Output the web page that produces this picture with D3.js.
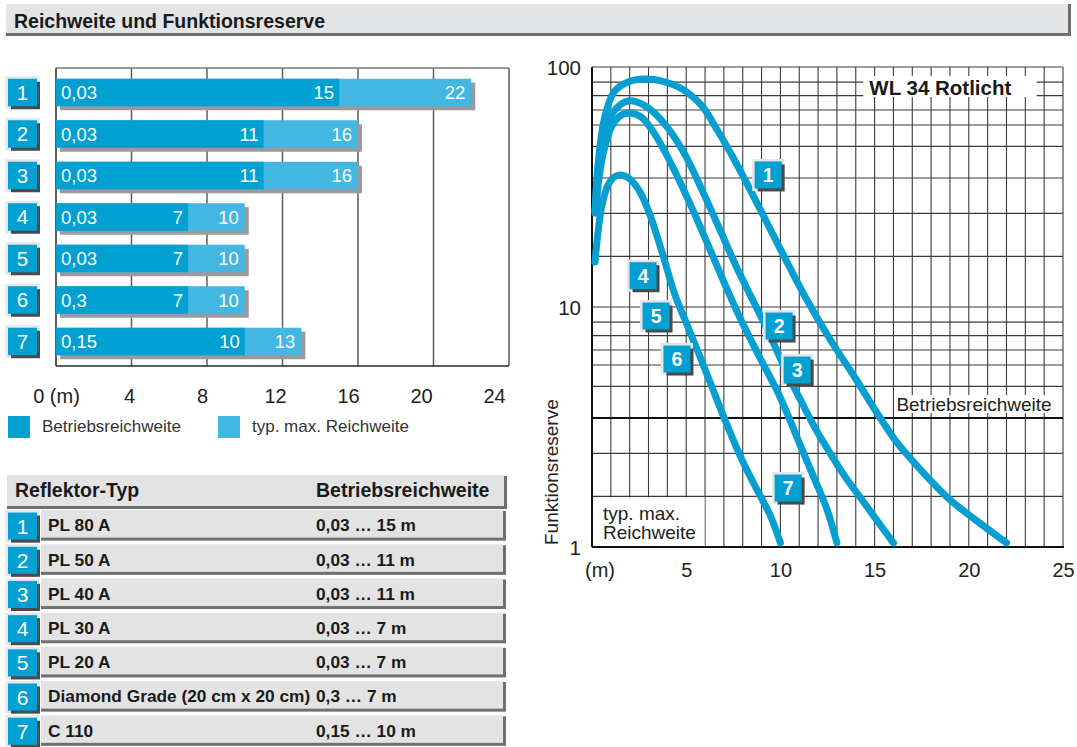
<!DOCTYPE html>
<html><head><meta charset="utf-8">
<script src="https://cdn.jsdelivr.net/npm/d3@7"></script>
<style>
body{margin:0;background:#fff}
svg{display:block}
text{font-family:"Liberation Sans",Arial,Helvetica,sans-serif}
</style>
</head><body>
<svg id="chart" width="1077" height="747"></svg>
<script>
// ---------- DATA ----------
const rowIds = ["1","2","3","4","5","6","7"];
const betriebValues = [15, 11, 11, 7, 7, 7, 10];
const maxValues = [22, 16, 16, 10, 10, 10, 13];
const minLabels = ["0,03","0,03","0,03","0,03","0,03","0,3","0,15"];
const barTicks = [0, 4, 8, 12, 16, 20, 24];
const reflektorTypes = ["PL 80 A","PL 50 A","PL 40 A","PL 30 A","PL 20 A","Diamond Grade (20 cm x 20 cm)","C 110"];
const rangeTexts = ["0,03 … 15 m","0,03 … 11 m","0,03 … 11 m","0,03 … 7 m","0,03 … 7 m","0,3 … 7 m","0,15 … 10 m"];

// Funktionsreserve curves (distance in m, reserve factor)
const curve1Dist    = [0.16,0.32,0.64,1.17,1.91,2.81,3.72,4.78,5.79,6.69,7.75,8.93,10.1,11.35,12.7,13.97,15.03,16.09,16.99,17.95,19.01,20.34,22.0];
const curve1Reserve = [24.9,39,60,78.7,86.6,89.1,87.4,81.0,69.5,54.0,38.5,25.5,16.8,10.9,7.2,5.06,3.72,2.79,2.3,1.9,1.57,1.3,1.04];
const curve23Dist    = [0.16,0.32,0.64,1.12,1.91,2.76,3.77,4.89,5.89,6.8,7.7,8.66,9.56,10.3,11.1,11.9,12.6,13.44,14.34,15.19,16.0];
const curve23Reserve = [24.6,36.5,51.6,64.9,72.2,69.4,59.0,43.8,30.1,20.9,14.5,10.2,7.29,5.4,4.05,3.07,2.49,1.96,1.57,1.27,1.04];
const curve7Dist    = [0.21,0.37,0.64,1.01,1.49,2.02,2.6,3.19,3.88,4.67,5.47,6.27,7.06,7.86,8.92,9.98,11.05,11.84,12.48,13.0];
const curve7Reserve = [25.4,34.5,45.1,55.7,62.5,64.3,61.9,54.6,44.2,33.2,24.2,17.3,12.4,9.0,6.13,4.22,2.66,1.9,1.43,1.04];
const curve456Dist    = [0.16,0.32,0.53,0.85,1.17,1.54,2.02,2.55,3.08,3.72,4.41,5.05,5.74,6.43,7.17,7.97,8.76,9.45,10.0];
const curve456Reserve = [15.4,20.5,26.6,32.2,34.8,35.5,34.1,30.1,24.2,16.9,11.2,8.41,6.19,4.51,3.22,2.3,1.73,1.36,1.04];

const curveBadgeIds = ["1","2","3","4","5","6","7"];
const curveBadgeDist = [9.35, 9.93, 10.89, 2.71, 3.40, 4.51, 10.41];
const curveBadgeReserve = [35.5, 8.33, 5.46, 13.5, 9.17, 6.07, 1.76];

const distTicks = [5, 10, 15, 20, 25];
const reserveTicks = [1, 10, 100];
const reserveGridSteps = [1.625, 2.455, 3.445, 4.67, 5.73, 6.62, 7.6, 8.65];
const betriebsLevel = 3.445;
const typMaxLevel = 1.625;

// ---------- STYLE ----------
const DARK = "#00a0d3", LIGHT = "#43b7e1", CURVE = "#079fd2";
const svg = d3.select("#chart");

// ---------- HEADER ----------
svg.append("rect").attr("x",6).attr("y",4).attr("width",1064).attr("height",30).attr("fill","#e3e4e5");
svg.append("rect").attr("x",6).attr("y",33).attr("width",1065).attr("height",3).attr("fill","#6e6e6e");
svg.append("rect").attr("x",1068).attr("y",4).attr("width",3).attr("height",32).attr("fill","#6e6e6e");
svg.append("text").attr("x",14).attr("y",28).attr("font-size",19.5).attr("font-weight","bold").attr("fill","#1a1a1a")
  .text("Reichweite und Funktionsreserve");

// ---------- BADGE helper ----------
function badge(g, x0, y0, w, h, label, fs, bold){
  g.append("rect").attr("x",x0-2.5).attr("y",y0-2.5).attr("width",w+5).attr("height",h+5).attr("fill","#e6e6e6");
  g.append("rect").attr("x",x0+3).attr("y",y0+3).attr("width",w).attr("height",h).attr("fill","#4a4a4a");
  g.append("rect").attr("x",x0).attr("y",y0).attr("width",w).attr("height",h).attr("fill",DARK);
  g.append("text").attr("x",x0+w/2).attr("y",y0+h/2).attr("dy","0.36em").attr("text-anchor","middle")
    .attr("font-size",fs).attr("font-weight",bold?"bold":"normal").attr("fill","#fff").text(label);
}

// ---------- BAR CHART ----------
const xBar = d3.scaleLinear().domain([0,24]).range([56,509]);
const yBar = d3.scaleBand().domain(rowIds).range([68,366]).paddingInner(0.337).paddingOuter(0.259);
const bw = yBar.bandwidth();
const gBar = svg.append("g");
barTicks.filter(t=>t>0 && t<24).forEach(t=>{
  gBar.append("line").attr("x1",xBar(t)).attr("x2",xBar(t)).attr("y1",68).attr("y2",366)
    .attr("stroke","#5e5e5e").attr("stroke-width",1.5);
});
gBar.append("line").attr("x1",xBar(0)).attr("x2",xBar(24)).attr("y1",68).attr("y2",68).attr("stroke","#7a7a7a").attr("stroke-width",1.5);
gBar.append("line").attr("x1",xBar(24)).attr("x2",xBar(24)).attr("y1",68).attr("y2",366).attr("stroke","#5e5e5e").attr("stroke-width",1.5);
gBar.append("line").attr("x1",xBar(0)).attr("x2",xBar(0)).attr("y1",68).attr("y2",366).attr("stroke","#2a2a2a").attr("stroke-width",1.5);
gBar.append("line").attr("x1",xBar(0)).attr("x2",xBar(24)).attr("y1",366).attr("y2",366).attr("stroke","#2a2a2a").attr("stroke-width",1.5);

rowIds.forEach((id,i)=>{
  const y0 = yBar(id);
  gBar.append("rect").attr("x",xBar(0)+4).attr("y",y0+4).attr("width",xBar(maxValues[i])-xBar(0)).attr("height",bw).attr("fill","#9a9a9c");
  gBar.append("rect").attr("x",xBar(0)).attr("y",y0).attr("width",xBar(maxValues[i])-xBar(0)).attr("height",bw).attr("fill",LIGHT);
  gBar.append("rect").attr("x",xBar(0)).attr("y",y0).attr("width",xBar(betriebValues[i])-xBar(0)).attr("height",bw).attr("fill",DARK);
  const ty = y0 + bw/2;
  gBar.append("text").attr("x",xBar(0)+5).attr("y",ty).attr("dy","0.36em").attr("font-size",18.5).attr("fill","#fff").text(minLabels[i]);
  gBar.append("text").attr("x",xBar(betriebValues[i])-5).attr("y",ty).attr("dy","0.36em").attr("text-anchor","end").attr("font-size",18.5).attr("fill","#fff").text(betriebValues[i]);
  gBar.append("text").attr("x",xBar(maxValues[i])-6).attr("y",ty).attr("dy","0.36em").attr("text-anchor","end").attr("font-size",18.5).attr("fill","#fff").text(maxValues[i]);
  badge(gBar, 8, y0, 29, bw, id, 20.5, false);
});

// tick labels of bar chart
const xBarLabel = d3.scaleLinear().domain([0,24]).range([56,494]);
const axB = svg.append("g").call(d3.axisBottom(xBarLabel).tickValues(barTicks).tickSize(0)
  .tickFormat(d => d===0 ? "0 (m)" : d));
axB.select(".domain").remove();
axB.selectAll("text").attr("y",403).attr("dy",null).attr("font-size",20).attr("fill","#222")
  .style("font-family",'"Liberation Sans",Arial,sans-serif');

// legend
svg.append("rect").attr("x",8).attr("y",416).attr("width",22).attr("height",22).attr("fill",DARK);
svg.append("text").attr("x",42).attr("y",432).attr("font-size",17).attr("fill","#333").text("Betriebsreichweite");
svg.append("rect").attr("x",218).attr("y",416).attr("width",22).attr("height",22).attr("fill",LIGHT);
svg.append("text").attr("x",252).attr("y",432).attr("font-size",17).attr("fill","#333").text("typ. max. Reichweite");

// ---------- TABLE ----------
const gT = svg.append("g");
gT.append("rect").attr("x",7).attr("y",475).attr("width",497).attr("height",31).attr("fill","#e3e3e4");
gT.append("rect").attr("x",7).attr("y",506).attr("width",500).attr("height",3).attr("fill","#6f6f6f");
gT.append("rect").attr("x",504).attr("y",476).attr("width",3).attr("height",33).attr("fill","#6f6f6f");
gT.append("text").attr("x",15).attr("y",497).attr("font-size",19.5).attr("font-weight","bold").attr("fill","#1a1a1a").text("Reflektor-Typ");
gT.append("text").attr("x",316).attr("y",497).attr("font-size",19.5).attr("font-weight","bold").attr("fill","#1a1a1a").text("Betriebsreichweite");

const yTab = d3.scaleBand().domain(rowIds).range([508, 508 + 7*34.2]).paddingInner(0.12).paddingOuter(0.06);
rowIds.forEach((id,i)=>{
  const t = yTab(id), h = yTab.bandwidth();
  gT.append("rect").attr("x",41).attr("y",t).attr("width",462).attr("height",h-2).attr("fill","#e3e3e4");
  gT.append("rect").attr("x",41).attr("y",t+h-2.5).attr("width",465).attr("height",3).attr("fill","#6f6f6f");
  gT.append("rect").attr("x",503).attr("y",t+1).attr("width",3).attr("height",h-1).attr("fill","#6f6f6f");
  badge(gT, 8, t+2.5, 29, h-3, id, 21, false);
  gT.append("text").attr("x",48).attr("y",t+h/2).attr("dy","0.36em").attr("font-size",17.3).attr("font-weight","bold").attr("fill","#1a1a1a").text(reflektorTypes[i]);
  gT.append("text").attr("x",316).attr("y",t+h/2).attr("dy","0.36em").attr("font-size",17.3).attr("font-weight","bold").attr("fill","#1a1a1a").text(rangeTexts[i]);
});

// ---------- FUNKTIONSRESERVE CHART ----------
const xR = d3.scaleLinear().domain([0,25]).range([592,1063]);
const yR = d3.scaleLog().domain([1,100]).range([547,67]);
const gR = svg.append("g");

// vertical grid
d3.range(1,26).forEach(m=>{
  gR.append("line").attr("x1",xR(m)).attr("x2",xR(m)).attr("y1",yR(100)).attr("y2",yR(1))
    .attr("stroke","#3c3c3c").attr("stroke-width",1.1);
});
// horizontal grid
const hGrid = [];
[1,10].forEach(dec => reserveGridSteps.forEach(s => hGrid.push(s*dec)));
hGrid.push(10, 100);
hGrid.forEach(v=>{
  gR.append("line").attr("x1",xR(0)).attr("x2",xR(25)).attr("y1",yR(v)).attr("y2",yR(v))
    .attr("stroke","#3c3c3c").attr("stroke-width",1.1);
});
gR.append("line").attr("x1",xR(0)).attr("x2",xR(25)).attr("y1",yR(betriebsLevel)).attr("y2",yR(betriebsLevel))
  .attr("stroke","#111").attr("stroke-width",2);
gR.append("line").attr("x1",xR(0)).attr("x2",xR(0)).attr("y1",yR(100)).attr("y2",yR(1)).attr("stroke","#111").attr("stroke-width",2);
gR.append("line").attr("x1",xR(0)).attr("x2",xR(25)+1).attr("y1",yR(1)).attr("y2",yR(1)).attr("stroke","#111").attr("stroke-width",2.2);

// white label boxes
gR.append("rect").attr("x",xR(0)+1).attr("y",yR(typMaxLevel)+1).attr("width",xR(6)-xR(0)-1.5).attr("height",yR(1)-yR(typMaxLevel)-2).attr("fill","#fff");
gR.append("text").attr("x",603).attr("y",520).attr("font-size",19).attr("fill","#222").text("typ. max.");
gR.append("text").attr("x",603).attr("y",539).attr("font-size",19).attr("fill","#222").text("Reichweite");

gR.append("rect").attr("x",xR(16.05)).attr("y",395).attr("width",xR(24.6)-xR(16.05)).attr("height",18).attr("fill","#fff");
gR.append("text").attr("x",xR(16.05)+2).attr("y",411).attr("font-size",19).attr("fill","#222").text("Betriebsreichweite");

gR.append("rect").attr("x",xR(14.4)).attr("y",76).attr("width",xR(23.6)-xR(14.4)).attr("height",21).attr("fill","#fff");
gR.append("text").attr("x",xR(14.4)+6).attr("y",94.5).attr("font-size",20.5).attr("font-weight","bold").attr("fill","#1a1a1a").text("WL 34 Rotlicht");

// curves
const line = d3.line().x(d=>xR(d[0])).y(d=>yR(d[1])).curve(d3.curveCatmullRom.alpha(0.5));
[[curve1Dist,curve1Reserve],[curve23Dist,curve23Reserve],[curve7Dist,curve7Reserve],[curve456Dist,curve456Reserve]]
  .forEach(([ds,rs])=>{
    gR.append("path").datum(ds.map((d,i)=>[d,rs[i]])).attr("d",line)
      .attr("fill","none").attr("stroke",CURVE).attr("stroke-width",7)
      .attr("stroke-linecap","round").attr("stroke-linejoin","round");
  });

// curve badges
curveBadgeIds.forEach((id,i)=>{
  const cx = xR(curveBadgeDist[i]), cy = yR(curveBadgeReserve[i]);
  badge(gR, cx-13.5, cy-13.5, 27, 27, id, 19.5, true);
});

// axes labels
const axX = svg.append("g").call(d3.axisBottom(xR).tickValues(distTicks).tickSize(0));
axX.select(".domain").remove();
axX.selectAll("text").attr("y",577).attr("dy",null).attr("font-size",20).attr("fill","#222")
  .style("font-family",'"Liberation Sans",Arial,sans-serif');
svg.append("text").attr("x",xR(0)+8).attr("y",577).attr("text-anchor","middle").attr("font-size",20).attr("fill","#222").text("(m)");

const axY = svg.append("g").call(d3.axisLeft(yR).tickValues(reserveTicks).tickSize(0).tickFormat(d3.format("d")));
axY.select(".domain").remove();
axY.selectAll("text").attr("x",581).attr("dy","0.36em").attr("text-anchor","end").attr("font-size",20.5).attr("fill","#222")
  .style("font-family",'"Liberation Sans",Arial,sans-serif');

svg.append("text").attr("transform","translate(558,545) rotate(-90)").attr("font-size",19).attr("fill","#222").text("Funktionsreserve");
</script>
</body></html>
